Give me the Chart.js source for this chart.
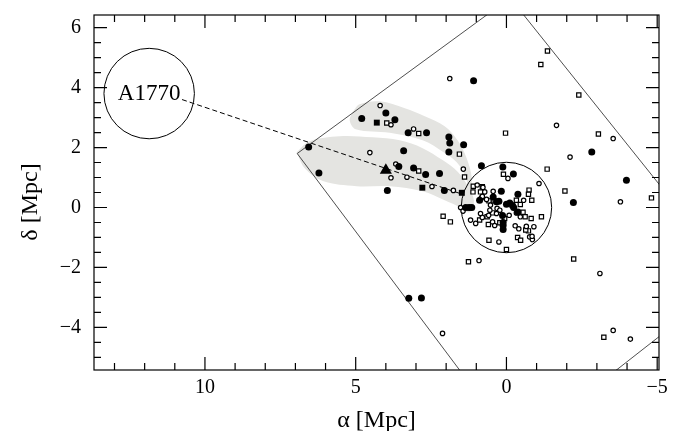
<!DOCTYPE html>
<html>
<head>
<meta charset="utf-8">
<script src="https://cdn.jsdelivr.net/npm/chart.js@4.4.0/dist/chart.umd.min.js"></script>
<style>
  body { margin: 0; background: #fff; }
  #wrap { width: 693px; height: 431px; }
</style>
</head>
<body>
<div id="wrap"><canvas id="plot" width="693" height="431"></canvas></div>
<script>
// tick labels
const xTicks = [10, 5, 0, -5];
const yTicks = [-4, -2, 0, 2, 4, 6];

// galaxies: filled circles
const filledDots = [
  [1.09,4.23],[4.00,3.15],[4.80,2.97],[3.70,2.93],[3.26,2.49],[2.65,2.49],[1.91,2.35],[1.88,2.15],
  [1.42,2.09],[1.91,1.85],[3.41,1.89],[6.56,2.02],[6.22,1.15],[3.57,1.37],[3.08,1.32],[2.68,1.10],
  [2.22,1.13],[3.95,0.57],[2.06,0.57],[0.83,1.39],[0.12,1.35],[-0.23,1.12],[-2.83,1.85],[-3.98,0.91],
  [-2.22,0.17],[3.24,-3.03],[2.82,-3.02],
  [1.35,0],[1.24,0],[1.15,0],[0.17,0.54],[-0.38,0.44],[0.89,0.24],[0.44,0.35],[0.25,0.21],[0.0,0.11],
  [-0.11,0.15],[-0.24,0],[-0.38,-0.15],[0.13,-0.27],[0.11,-0.60],[0.11,-0.73],[0.11,-0.50],[0.33,0.19],[-0.20,0.07]
];
// filled squares
const filledSquares = [[4.30,2.83],[2.79,0.66],[1.48,0.49]];
// filled triangle
const triangles = [[4.00,1.24]];
// open circles
const openDots = [
  [1.88,4.30],[4.19,3.40],[3.83,2.76],[3.08,2.62],[4.53,1.83],[3.67,1.45],[3.83,0.99],[3.30,1.01],
  [2.47,0.70],[1.76,0.57],[1.43,1.28],[-0.05,0.97],[-1.66,2.74],[-2.11,1.68],[-3.54,2.30],[-3.78,0.19],
  [-1.08,0.80],[0.97,0.75],[0.78,0.67],[0.72,0.52],[0.44,0.54],[1.52,0],[1.44,-0.12],[0.83,0.32],
  [0.66,0.27],[-0.57,0.24],[0.53,0.08],[0.31,-0.03],[0.22,-0.09],[0.59,-0.26],[-0.09,-0.26],[-0.33,-0.18],
  [-0.46,-0.31],[0.80,-0.33],[1.19,-0.42],[1.02,-0.53],[0.86,-0.20],[0.46,-0.48],[0.39,-0.60],[-0.29,-0.61],
  [-0.41,-0.71],[-0.66,-0.63],[-0.77,-0.98],[-0.86,-1.07],[0.25,-1.15],[0.91,-1.77],[-3.10,-2.20],[2.12,-4.20],
  [-3.54,-4.10],[-4.11,-4.39],[0.80,0.37],[0.55,-0.09],[0.33,-0.20],[-0.91,-0.64],[-0.85,-0.96]
];
// open squares
const openSquares = [
  [-1.36,5.22],[-1.14,4.77],[-2.40,3.75],[0.03,2.48],[-3.05,2.45],[-1.94,0.55],[-4.81,0.32],[3.97,2.82],
  [2.91,2.47],[1.56,1.78],[2.91,1.22],[1.39,1.02],[0.10,1.11],[-1.35,1.28],[-0.75,0.58],[-0.73,0.44],
  [0.41,0.22],[-0.33,0.24],[-0.46,0.10],[-0.84,0.24],[0.46,-0.18],[0.06,-0.37],[-0.55,-0.16],[-0.62,-0.31],
  [-0.82,-0.37],[0.89,-0.42],[0.22,-0.51],[-0.73,-0.78],[-0.37,-1.00],[-0.47,-1.09],[0.58,-1.09],[0.00,-1.40],
  [2.10,-0.29],[1.86,-0.48],[0.60,-0.57],[1.26,-1.81],[-2.23,-1.72],[-3.23,-4.33],[-1.16,-0.31],[1.10,0.71],
  [0.80,0.69],[0.86,0.52],[1.11,0.52],[0.58,0.22],[0.64,-0.31],[-0.64,-0.75]
];

// grey filaments
const upperBand = [
  [5.10,3.18],[4.87,3.44],[4.20,3.54],[3.37,3.31],[2.71,3.04],[2.05,2.71],[1.62,2.24],[1.32,1.64],
  [1.15,0.98],[1.22,0.58],[1.38,1.08],[1.65,1.51],[2.11,1.86],[2.78,2.24],[3.87,2.49],[5.00,2.61],[5.20,2.91]
];
const lowerBand = [
  [6.96,1.84],[6.53,2.21],[5.53,2.38],[4.44,2.34],[3.54,2.24],[2.78,1.98],[2.12,1.58],[1.61,1.18],
  [1.28,0.71],[1.08,0.24],[1.22,-0.16],[1.55,0.01],[2.05,0.24],[2.78,0.54],[3.87,0.71],[4.97,0.71],
  [6.09,0.88],[6.69,1.31]
];

// survey field outline (corners)
const fieldCorners = [[6.94,1.8],[-0.12,6.99],[-7.55,-2.35],[-0.37,-8.0],[6.94,1.8]];
// line joining the two clusters
const linkLine = [[10.76,3.60],[1.40,0.42]];
// cluster circles
const circleX = [11.85, 0];
const circleY = [3.8, 0];
const circleR = [1.5, 1.5];
const circleName = ['A1770', ''];

const pts = a => a.map(p => ({x: p[0], y: p[1]}));
const closed = a => pts(a.concat([a[0]]));

const serif = '"Liberation Serif", "DejaVu Serif", serif';

const frame = {
  id: 'frame',
  afterDatasetsDraw(chart) {
    const {ctx, chartArea: a, scales: {x, y}} = chart;
    ctx.save();
    ctx.strokeStyle = '#000';
    ctx.lineWidth = 1.2;
    ctx.strokeRect(a.left, a.top, a.right - a.left, a.bottom - a.top);
    ctx.beginPath();
    for (let v = Math.ceil(x.min); v <= x.max; v++) {
      const px = x.getPixelForValue(v);
      const len = v % 5 === 0 ? 13 : 7;
      ctx.moveTo(px, a.bottom); ctx.lineTo(px, a.bottom - len);
      ctx.moveTo(px, a.top); ctx.lineTo(px, a.top + len);
    }
    for (let v = Math.ceil(y.min * 2) / 2; v <= y.max; v += 0.5) {
      const py = y.getPixelForValue(v);
      const len = v % 2 === 0 ? 13 : 7;
      ctx.moveTo(a.left, py); ctx.lineTo(a.left + len, py);
      ctx.moveTo(a.right, py); ctx.lineTo(a.right - len, py);
    }
    ctx.stroke();

    // cluster names
    ctx.fillStyle = '#000';
    ctx.font = '23px ' + serif;
    ctx.textAlign = 'center';
    ctx.textBaseline = 'middle';
    circleName.forEach((n, i) => {
      if (n) ctx.fillText(n, x.getPixelForValue(circleX[i]), y.getPixelForValue(circleY[i]));
    });

    // y axis title
    ctx.translate(31, 202);
    ctx.rotate(-Math.PI / 2);
    ctx.font = '24px ' + serif;
    ctx.fillText('\u03b4 [Mpc]', 0, 0);
    ctx.restore();
  }
};

const scaleRadius = ctx => {
  const s = ctx.chart.scales.x;
  if (!s) return 0;
  return Math.abs(s.getPixelForValue(circleR[ctx.dataIndex]) - s.getPixelForValue(0));
};

new Chart(document.getElementById('plot'), {
  type: 'scatter',
  data: {
    datasets: [
      { data: pts(filledDots), pointStyle: 'circle', pointRadius: 3.5, backgroundColor: '#000', borderColor: '#000', borderWidth: 0, order: 0 },
      { data: pts(filledSquares), pointStyle: 'rect', pointRadius: 4.2, backgroundColor: '#000', borderColor: '#000', borderWidth: 0, order: 0 },
      { data: pts(triangles), pointStyle: 'triangle', pointRadius: 7, backgroundColor: '#000', borderColor: '#000', borderWidth: 0, order: 0 },
      { data: pts(openDots), pointStyle: 'circle', pointRadius: 2.2, backgroundColor: '#fff', borderColor: '#000', borderWidth: 1.2, order: 1 },
      { data: pts(openSquares), pointStyle: 'rect', pointRadius: 3, backgroundColor: '#fff', borderColor: '#000', borderWidth: 1.2, order: 1 },
      { data: circleX.map((v, i) => ({x: v, y: circleY[i]})), pointStyle: 'circle', pointRadius: scaleRadius,
        backgroundColor: 'rgba(0,0,0,0)', borderColor: '#000', borderWidth: 1, order: 2 },
      { data: pts(fieldCorners), showLine: true, pointRadius: 0, borderColor: '#222', borderWidth: 0.8, order: 2 },
      { data: pts(linkLine), showLine: true, pointRadius: 0, borderColor: '#000', borderWidth: 1, borderDash: [5, 3], order: 2 },
      { data: closed(upperBand), showLine: true, pointRadius: 0, borderWidth: 0, tension: 0.35,
        fill: 'shape', backgroundColor: '#e4e4e1', borderColor: '#e4e4e1', order: 3 },
      { data: closed(lowerBand), showLine: true, pointRadius: 0, borderWidth: 0, tension: 0.35,
        fill: 'shape', backgroundColor: '#e4e4e1', borderColor: '#e4e4e1', order: 3 }
    ]
  },
  options: {
    responsive: false,
    devicePixelRatio: 1,
    animation: false,
    layout: { padding: { top: 15, right: 34, left: 0, bottom: 0 } },
    plugins: { legend: { display: false }, tooltip: { enabled: false } },
    scales: {
      x: {
        type: 'linear', reverse: true, min: -5.06, max: 13.68,
        grid: { display: false, drawTicks: false },
        border: { display: false },
        afterBuildTicks: s => { s.ticks = xTicks.map(v => ({value: v})); },
        afterFit: s => { s.height = 61; s.paddingLeft = 0; s.paddingRight = 0; },
        ticks: { padding: 6, color: '#000', font: { family: serif, size: 20 },
                 callback: v => String(v).replace('-', '\u2212') },
        title: { display: true, text: '\u03b1 [Mpc]', color: '#000', font: { family: serif, size: 24 },
                 padding: { top: 0, bottom: -4 } }
      },
      y: {
        type: 'linear', min: -5.42, max: 6.42,
        grid: { display: false, drawTicks: false },
        border: { display: false },
        afterBuildTicks: s => { s.ticks = yTicks.map(v => ({value: v})); },
        afterFit: s => { s.width = 94; s.paddingTop = 0; s.paddingBottom = 0; },
        ticks: { padding: 13, color: '#000', font: { family: serif, size: 20 },
                 callback: v => String(v).replace('-', '\u2212') }
      }
    }
  },
  plugins: [frame]
});
</script>
</body>
</html>
